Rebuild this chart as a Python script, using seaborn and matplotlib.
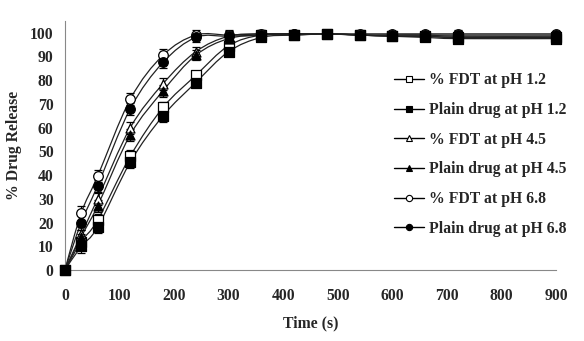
import numpy as np
import pandas as pd
import matplotlib
matplotlib.use("Agg")
import matplotlib.pyplot as plt
from matplotlib.path import Path
from matplotlib.patches import PathPatch
from matplotlib.lines import Line2D
import seaborn as sns

time_s = [0, 30, 60, 120, 180, 240, 300, 360, 420, 480, 540, 600, 660, 720, 900]

fdt_ph12 = [0, 12, 21, 48, 68.5, 82, 94.5, 99, 99, 99.5, 99, 98.5, 98.5, 98, 98]
plain_ph12 = [0, 10, 18, 45.5, 65, 79, 92, 98, 99, 99.5, 99, 98.5, 98, 97.5, 97.5]
fdt_ph45 = [0, 15, 30, 60, 78.5, 92, 98.5, 99.5, 99.5, 99.5, 99, 99, 99, 98.5, 98.5]
plain_ph45 = [0, 14, 27, 57, 75.5, 90.5, 97.5, 99, 99.5, 99.5, 99, 98.5, 98.5, 98, 98]
fdt_ph68 = [0, 24, 39.5, 72, 90.5, 99, 99, 99.5, 99.5, 99.5, 99.5, 99.5, 99.5, 99.5, 99.5]
plain_ph68 = [0, 20, 35.5, 68, 87.5, 98, 98.5, 99, 99.5, 99.5, 99, 99, 99, 99, 99]

errors = [0, 3, 2.5, 2.5, 2.5, 2, 2, 1.5, 1, 1, 1, 1, 1, 1.5, 1]

labels = ["% FDT at pH 1.2", "Plain drug at pH 1.2", "% FDT at pH 4.5",
          "Plain drug at pH 4.5", "% FDT at pH 6.8", "Plain drug at pH 6.8"]
series = [fdt_ph12, plain_ph12, fdt_ph45, plain_ph45, fdt_ph68, plain_ph68]
markers = ["s", "s", "^", "^", "o", "o"]
filled = [False, True, False, True, False, True]

x_ticks = [0, 100, 200, 300, 400, 500, 600, 700, 800, 900]
y_ticks = [0, 10, 20, 30, 40, 50, 60, 70, 80, 90, 100]

sns.set_style("white")
plt.rcParams["font.family"] = ["Liberation Serif", "DejaVu Serif"]
plt.rcParams["font.weight"] = "bold"

FS = 11.3

fig = plt.figure(figsize=(5.84, 3.41), dpi=100)
ax = fig.add_axes([0.111, 0.208, 0.841, 0.731])


def smooth_path(xs, ys):
    pts = np.column_stack([xs, ys]).astype(float)
    n = len(pts)
    verts = [pts[0]]
    codes = [Path.MOVETO]
    for i in range(n - 1):
        p0 = pts[i - 1] if i > 0 else pts[i]
        p1 = pts[i]
        p2 = pts[i + 1]
        p3 = pts[i + 2] if i + 2 < n else pts[i + 1]
        c1 = p1 + (p2 - p0) / 6.0
        c2 = p2 - (p3 - p1) / 6.0
        verts += [c1, c2, p2]
        codes += [Path.CURVE4] * 3
    return Path(verts, codes)


handles = []
for lab, ys, mk, fl in zip(labels, series, markers, filled):
    patch = PathPatch(smooth_path(time_s, ys), fill=False, edgecolor="#222222",
                      lw=0.9, transform=ax.transData, zorder=2)
    ax.add_patch(patch)
    ax.errorbar(time_s, ys, yerr=errors, fmt="none", ecolor="black",
                elinewidth=0.9, capsize=3, capthick=0.9, zorder=3, clip_on=False)
    df = pd.DataFrame({"t": time_s, "v": ys})
    ms = 48 if mk != "^" else 42
    sns.scatterplot(data=df, x="t", y="v", marker=mk, s=ms,
                    facecolor="black" if fl else "white", edgecolor="black",
                    linewidth=0.9, ax=ax, zorder=4, clip_on=False, legend=False)
    handles.append(Line2D([0], [0], color="black", lw=1.0, marker=mk,
                          markersize=4.5, markerfacecolor="black" if fl else "white",
                          markeredgecolor="black", markeredgewidth=0.8))

ax.set_xlim(0, 900)
ax.set_ylim(0, 105)
ax.set_xticks(x_ticks)
ax.set_yticks(y_ticks)
ax.tick_params(axis="x", direction="out", length=5, width=0.8, color="#888888",
               labelsize=FS, pad=8)
ax.tick_params(axis="y", direction="out", length=0, labelsize=FS, pad=8)
for lab in ax.get_xticklabels() + ax.get_yticklabels():
    lab.set_fontweight("bold")
ax.spines["top"].set_visible(False)
ax.spines["right"].set_visible(False)
ax.spines["left"].set_color("#888888")
ax.spines["bottom"].set_color("#888888")
ax.spines["left"].set_linewidth(0.8)
ax.spines["bottom"].set_linewidth(0.8)

ax.set_xlabel("Time (s)", fontsize=FS, fontweight="bold", labelpad=8)
ax.set_ylabel("% Drug Release", fontsize=FS, fontweight="bold", labelpad=6)

leg = ax.legend(handles, labels, loc="upper left", bbox_to_anchor=(0.658, 0.818),
                frameon=False, fontsize=FS, labelspacing=0.87,
                handlelength=1.9, handletextpad=0.3, borderaxespad=0)
for t in leg.get_texts():
    t.set_fontweight("bold")

fig.savefig("out.png", dpi=100)
